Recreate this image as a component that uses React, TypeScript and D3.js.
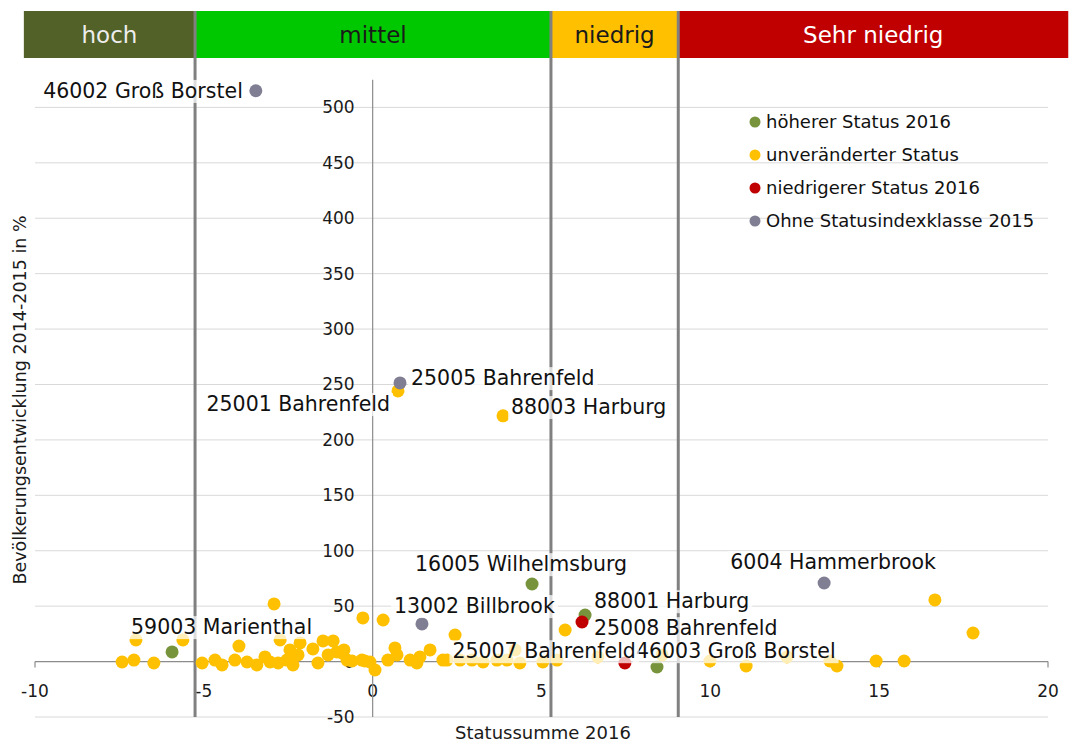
import React, { useEffect, useRef } from "react";
import * as d3 from "d3";

// status classes across the top band
const statusClasses = ["hoch", "mittel", "niedrig", "Sehr niedrig"];
const classBounds = [-10.33, -5.26, 5.28, 9.05, 20.6];
const classColors = ["#526127", "#00C800", "#FFC000", "#C00000"];
const classTextColors = ["#EDEDED", "#1A1A1A", "#1A1A1A", "#FFFFFF"];

const xTicks = [-10, -5, 0, 5, 10, 15, 20];
const yTicks = [-50, 0, 50, 100, 150, 200, 250, 300, 350, 400, 450, 500];

// unveränderter Status (first two are labelled)
const unchangedX = [
  0.75, 3.86, -7.42, -7.07, -7.01, -6.48, -5.62, -5.05, -4.67, -4.46, -3.96, -4.08,
  -3.72, -3.43, -3.19, -3.04, -2.92, -2.74, -2.8, -2.54, -2.45, -2.36, -2.15, -2.21,
  -1.77, -1.62, -1.47, -1.17, -1.32, -1.06, -0.91, -0.85, -0.76, -0.61, -0.32, -0.29,
  0.31, -0.23, -0.08, 0.07, 0.45, 0.66, 0.72, 1.11, 1.31, 1.4, 1.7, 2.08, 2.2, 2.44,
  2.59, 2.94, 3.27, 3.68, 3.98, 4.22, 4.36, 5.04, 5.46, 5.7, 6.67, 8.57, 9.99, 11.06,
  12.27, 13.54, 13.75, 14.91, 15.74, 16.65, 17.78,
];
const unchangedY = [
  244.2, 221.7, -0.4, 1.4, 19.5, -1.3, 19.5, -1.3, 1.4, -3, 14, 1.4,
  -0.4, -3, 4.2, -0.4, 52, 19.5, -1.3, 1.4, 10.5, -3, 16.8, 6,
  11.4, -1.3, 18.6, 18.6, 6, 8.7, 7.8, 10.5, 1.4, 0.5, 1.4, 39.4,
  37.5, 0.5, -0.4, -7.6, 1.4, 12.3, 6, 1.4, -1.3, 4.2, 10.5, 1.4, 1.4, 24,
  1.4, 1.4, -0.4, 1.4, 1.4, 10.5, -1.3, -0.4, 1.4, 28.5, 4.2, 6, 0.5, -4,
  4.2, 0.5, -4, 0.5, 0.5, 55.6, 25.8,
];
const unchangedLabels: Record<number, string> = { 0: "25001 Bahrenfeld", 1: "88003 Harburg" };

// höherer Status 2016
const higherX = [-5.94, 4.72, 6.29, 8.42];
const higherY = [8.7, 70, 42, -4.9];
const higherLabels: Record<number, string> = {
  0: "59003 Marienthal",
  1: "16005 Wilhelmsburg",
  2: "88001 Harburg",
  3: "46003 Groß Borstel",
};

// niedrigerer Status 2016
const lowerX = [6.2, 7.47];
const lowerY = [35.7, -1.3];
const lowerLabels: Record<number, string> = { 0: "25008 Bahrenfeld", 1: "25007 Bahrenfeld" };

// Ohne Statusindexklasse 2015
const noClassX = [-3.46, 0.81, 1.46, 13.37];
const noClassY = [515, 251.4, 34, 70.9];
const noClassLabels: Record<number, string> = {
  0: "46002 Groß Borstel",
  1: "25005 Bahrenfeld",
  2: "13002 Billbrook",
  3: "6004 Hammerbrook",
};

const legendLabels = [
  "höherer Status 2016",
  "unveränderter Status",
  "niedrigerer Status 2016",
  "Ohne Statusindexklasse 2015",
];
const legendColors = ["#77933C", "#FFC000", "#C00000", "#807E92"];

// where each data label sits relative to its point
const labelPlacement: Record<string, [string, number, number]> = {
  "46002 Groß Borstel": ["end", -13, 0],
  "25005 Bahrenfeld": ["start", 11, -5],
  "25001 Bahrenfeld": ["end", -8, 13],
  "88003 Harburg": ["start", 8, -9],
  "16005 Wilhelmsburg": ["middle", -11, -20],
  "6004 Hammerbrook": ["middle", 9, -21],
  "13002 Billbrook": ["start", -28, -18],
  "88001 Harburg": ["start", 9, -14],
  "25008 Bahrenfeld": ["start", 12, 6],
  "59003 Marienthal": ["start", -41, -25],
  "25007 Bahrenfeld": ["end", 11, -12],
  "46003 Groß Borstel": ["start", -21, -16],
};

const FONT = "'DejaVu Sans', Verdana, sans-serif";

const App = () => {
  const svgRef = useRef<SVGSVGElement>(null);

  useEffect(() => {
    const width = 1070,
      height = 743;
    const svg = d3.select(svgRef.current).attr("width", width).attr("height", height);
    svg.selectAll("*").remove();

    const x = d3.scaleLinear().domain([-10, 20]).range([35, 1048]);
    const y = d3.scaleLinear().domain([-50, 500]).range([717, 107.4]);

    // status bands on top
    const bandTop = 11,
      bandBottom = 58;
    const bands = svg.append("g");
    statusClasses.forEach((name, i) => {
      const x0 = x(classBounds[i]);
      const x1 = x(classBounds[i + 1]);
      bands
        .append("rect")
        .attr("x", x0)
        .attr("y", bandTop)
        .attr("width", x1 - x0)
        .attr("height", bandBottom - bandTop)
        .attr("fill", classColors[i]);
      bands
        .append("text")
        .attr("x", (x0 + x1) / 2)
        .attr("y", (bandTop + bandBottom) / 2)
        .attr("dy", "0.35em")
        .attr("text-anchor", "middle")
        .attr("font-family", FONT)
        .attr("font-size", 23)
        .attr("fill", classTextColors[i])
        .text(name);
    });

    // horizontal grid
    svg
      .append("g")
      .selectAll("line")
      .data(yTicks.filter((d) => d !== 0))
      .enter()
      .append("line")
      .attr("x1", x(-10))
      .attr("x2", x(20))
      .attr("y1", (d) => y(d))
      .attr("y2", (d) => y(d))
      .attr("stroke", "#D9D9D9")
      .attr("stroke-width", 1);

    // x axis
    const xAxis = svg.append("g");
    xAxis
      .append("line")
      .attr("x1", x(-10))
      .attr("x2", x(20))
      .attr("y1", y(0))
      .attr("y2", y(0))
      .attr("stroke", "#8C8C8C")
      .attr("stroke-width", 1.2);
    xAxis
      .selectAll("line.tick")
      .data(xTicks)
      .enter()
      .append("line")
      .attr("class", "tick")
      .attr("x1", (d) => x(d))
      .attr("x2", (d) => x(d))
      .attr("y1", y(0))
      .attr("y2", y(0) + 6)
      .attr("stroke", "#8C8C8C")
      .attr("stroke-width", 1.2);
    xAxis
      .selectAll("text")
      .data(xTicks)
      .enter()
      .append("text")
      .attr("x", (d) => x(d))
      .attr("y", y(0) + 29)
      .attr("dy", "0.35em")
      .attr("text-anchor", "middle")
      .attr("font-family", FONT)
      .attr("font-size", 17)
      .attr("fill", "#1A1A1A")
      .text((d) => String(d));

    // y axis
    const yAxis = svg.append("g");
    yAxis
      .append("line")
      .attr("x1", x(0))
      .attr("x2", x(0))
      .attr("y1", y(525))
      .attr("y2", y(-50))
      .attr("stroke", "#8C8C8C")
      .attr("stroke-width", 1.2);
    yAxis
      .selectAll("text")
      .data(yTicks)
      .enter()
      .append("text")
      .attr("x", x(0) - 18)
      .attr("y", (d) => y(d))
      .attr("dy", "0.35em")
      .attr("text-anchor", "end")
      .attr("font-family", FONT)
      .attr("font-size", 17)
      .attr("fill", "#1A1A1A")
      .text((d) => String(d));

    // class dividers
    svg
      .append("g")
      .selectAll("line")
      .data(classBounds.slice(1, 4))
      .enter()
      .append("line")
      .attr("x1", (d) => x(d))
      .attr("x2", (d) => x(d))
      .attr("y1", bandTop)
      .attr("y2", y(-50))
      .attr("stroke", "#808080")
      .attr("stroke-width", 3);

    // points
    const series = [
      { xs: unchangedX, ys: unchangedY, color: legendColors[1], labels: unchangedLabels },
      { xs: noClassX, ys: noClassY, color: legendColors[3], labels: noClassLabels },
      { xs: higherX, ys: higherY, color: legendColors[0], labels: higherLabels },
      { xs: lowerX, ys: lowerY, color: legendColors[2], labels: lowerLabels },
    ];
    const pts = svg.append("g");
    series.forEach((s) => {
      pts
        .append("g")
        .selectAll("circle")
        .data(s.xs.map((v, i) => [v, s.ys[i]]))
        .enter()
        .append("circle")
        .attr("cx", (d) => x(d[0]))
        .attr("cy", (d) => y(d[1]))
        .attr("r", 6.5)
        .attr("fill", s.color);
    });

    // data labels with translucent white boxes
    const labelLayer = svg.append("g");
    series.forEach((s) => {
      Object.keys(s.labels).forEach((k) => {
        const i = +k;
        const name = s.labels[i];
        const [anchor, dx, dy] = labelPlacement[name];
        const g = labelLayer.append("g");
        const t = g
          .append("text")
          .attr("x", x(s.xs[i]) + dx)
          .attr("y", y(s.ys[i]) + dy)
          .attr("dy", "0.35em")
          .attr("text-anchor", anchor)
          .attr("font-family", FONT)
          .attr("font-size", 20.5)
          .attr("fill", "#111")
          .text(name);
        const bb = (t.node() as SVGTextElement).getBBox();
        g.insert("rect", "text")
          .attr("x", bb.x - 3)
          .attr("y", bb.y + 1)
          .attr("width", bb.width + 6)
          .attr("height", bb.height - 1)
          .attr("fill", "#FFFFFF")
          .attr("fill-opacity", 0.72);
      });
    });

    // legend
    const legend = svg.append("g").attr("transform", "translate(755,122)");
    legendLabels.forEach((lab, i) => {
      legend
        .append("circle")
        .attr("cx", 0)
        .attr("cy", i * 33)
        .attr("r", 5.5)
        .attr("fill", legendColors[i]);
      legend
        .append("text")
        .attr("x", 11)
        .attr("y", i * 33)
        .attr("dy", "0.35em")
        .attr("font-family", FONT)
        .attr("font-size", 18)
        .attr("fill", "#111")
        .text(lab);
    });

    // axis titles
    svg
      .append("text")
      .attr("x", 543)
      .attr("y", 733)
      .attr("dy", "0.35em")
      .attr("text-anchor", "middle")
      .attr("font-family", FONT)
      .attr("font-size", 18)
      .attr("fill", "#1A1A1A")
      .text("Statussumme 2016");

    svg
      .append("text")
      .attr("transform", "translate(20,400) rotate(-90)")
      .attr("dy", "0.35em")
      .attr("text-anchor", "middle")
      .attr("font-family", FONT)
      .attr("font-size", 17.5)
      .attr("fill", "#1A1A1A")
      .text("Bevölkerungsentwicklung 2014-2015 in %");
  }, []);

  return (
    <div style={{ position: "absolute", left: 0, top: 0, background: "#fff" }}>
      <svg ref={svgRef}></svg>
    </div>
  );
};

export default App;
